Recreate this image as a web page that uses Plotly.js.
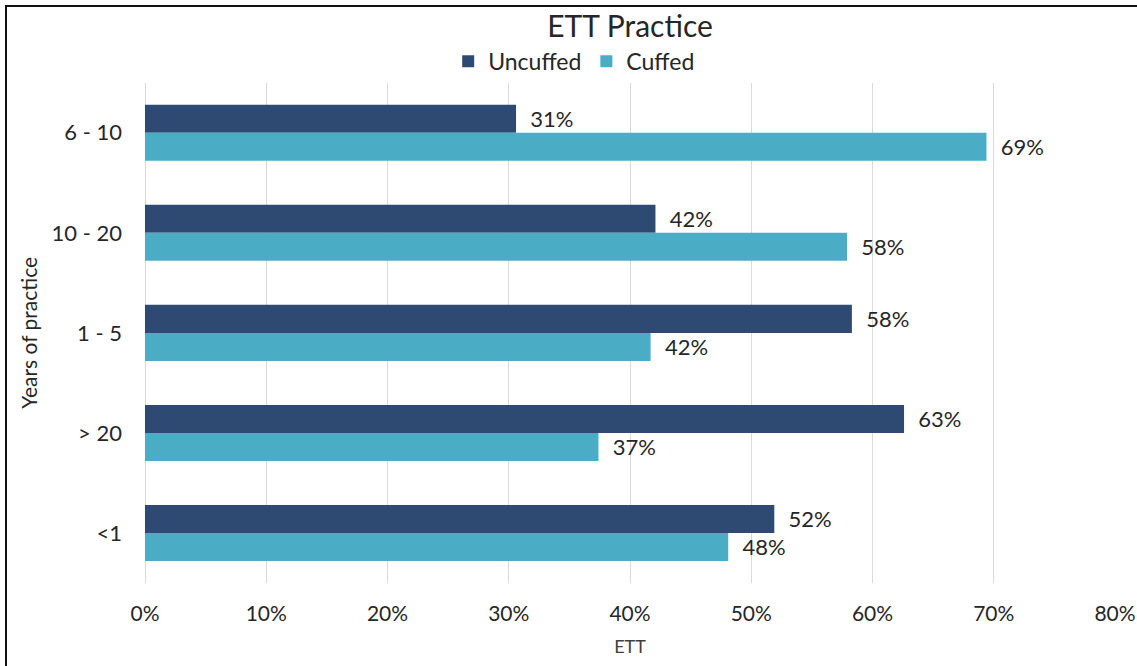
<!DOCTYPE html>
<html>
<head>
<meta charset="utf-8">
<script src="https://cdn.plot.ly/plotly-3.0.1.min.js"></script>
<style>
html,body{margin:0;padding:0;background:#fff;}
#wrap{position:relative;width:1137px;height:666px;}
#chart{position:absolute;left:0;top:0;width:1137px;height:666px;}
#frame{position:absolute;left:5px;top:5px;right:0;bottom:0;border-top:2px solid #111;border-left:2px solid #111;pointer-events:none;}
</style>
</head>
<body>
<div id="wrap"><div id="chart"></div><div id="frame"></div></div>
<script>
const categories = ['6 - 10', '10 - 20', '1 - 5', '> 20', '<1'];
const uncuffed = [0.306, 0.421, 0.583, 0.626, 0.519];
const cuffed = [0.694, 0.579, 0.417, 0.374, 0.481];
const xTicks = [0, 0.1, 0.2, 0.3, 0.4, 0.5, 0.6, 0.7, 0.8];

const FONT = 'Lato, "Open Sans", sans-serif';
const PAD = '\u00a0\u00a0';

const traces = [
  {
    type: 'bar', orientation: 'h', name: 'Uncuffed',
    x: uncuffed, y: categories,
    marker: {color: '#2E4A72'},
    texttemplate: PAD + '%{x:.0%}', textposition: 'outside', cliponaxis: false,
    textfont: {family: FONT, size: 22, color: '#262626'},
    hoverinfo: 'x+y'
  },
  {
    type: 'bar', orientation: 'h', name: 'Cuffed',
    x: cuffed, y: categories,
    marker: {color: '#4BACC6'},
    texttemplate: PAD + '%{x:.0%}', textposition: 'outside', cliponaxis: false,
    textfont: {family: FONT, size: 22, color: '#262626'},
    hoverinfo: 'x+y'
  }
];

const layout = {
  width: 1137, height: 666,
  paper_bgcolor: '#fff', plot_bgcolor: '#fff',
  margin: {l: 145, r: 22, t: 81, b: 83},
  font: {family: FONT, color: '#404040'},
  title: {text: 'ETT Practice', xref: 'paper', x: 0.5, xanchor: 'center', yref: 'container', y: 0.96, yanchor: 'middle',
          font: {family: FONT, size: 30, color: '#262626'}},
  showlegend: true,
  legend: {orientation: 'h', xref: 'container', x: 0.505, xanchor: 'center', yref: 'container', y: 0.908, yanchor: 'middle',
           font: {family: FONT, size: 23, color: '#262626'}, itemwidth: 30, tracegroupgap: 0},
  barmode: 'group', bargap: 0.44, bargroupgap: 0,
  xaxis: {
    range: [0, 0.8], tickvals: xTicks, tickformat: '.0%',
    showgrid: true, gridcolor: '#D9D9D9', gridwidth: 1, zeroline: true, zerolinecolor: '#D9D9D9',
    showline: false, ticks: '', ticklabelstandoff: 16,
    tickfont: {family: FONT, size: 21, color: '#262626'},
    title: {text: 'ETT', font: {family: FONT, size: 18, color: '#404040'}, standoff: 16}
  },
  yaxis: {
    type: 'category', autorange: 'reversed',
    showgrid: false, showline: false, ticks: '', ticklabelstandoff: 22,
    tickfont: {family: FONT, size: 22, color: '#262626'},
    title: {text: 'Years of practice', font: {family: FONT, size: 21, color: '#262626'}, standoff: 8}
  }
};

Plotly.newPlot('chart', traces, layout, {displayModeBar: false, responsive: false});
</script>
</body>
</html>
